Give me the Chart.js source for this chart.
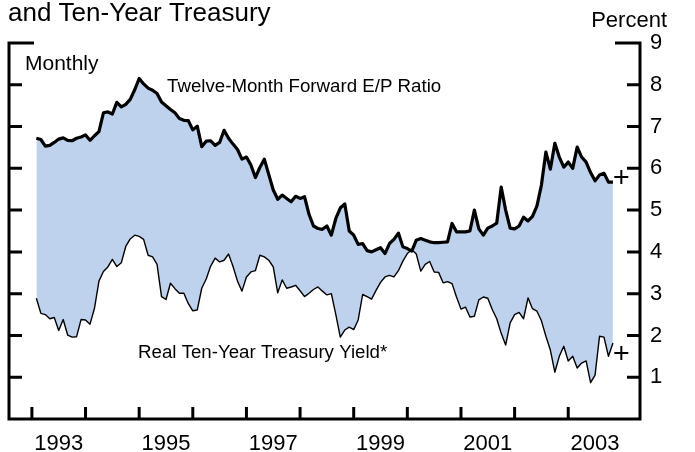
<!DOCTYPE html>
<html>
<head>
<meta charset="utf-8">
<script src="https://cdn.jsdelivr.net/npm/chart.js@4.4.1/dist/chart.umd.min.js"></script>
<style>
  html, body { margin: 0; padding: 0; background: #fff; }
  #chart { display: block; }
</style>
</head>
<body>
<canvas id="chart" width="695" height="452"></canvas>
<script>
// Monthly data, Feb 1993 - Nov 2003
const firstYear = 1993;
const firstMonth = 2;

const epRatio = [
  6.72, 6.69, 6.53, 6.55, 6.62, 6.70, 6.73, 6.67, 6.66, 6.72, 6.75, 6.80,
  6.67, 6.78, 6.88, 7.33, 7.35, 7.30, 7.58, 7.47, 7.53, 7.65, 7.88, 8.15,
  8.02, 7.92, 7.87, 7.79, 7.59, 7.50, 7.41, 7.33, 7.19, 7.15, 7.14, 6.92,
  7.01, 6.52, 6.65, 6.66, 6.55, 6.62, 6.91, 6.72, 6.58, 6.45, 6.22, 6.27,
  6.08, 5.78, 6.02, 6.22, 5.85, 5.48, 5.26, 5.36, 5.28, 5.20, 5.33, 5.28,
  5.32, 4.90, 4.62, 4.56, 4.54, 4.62, 4.40, 4.80, 5.05, 5.15, 4.50, 4.40,
  4.18, 4.20, 4.03, 4.00, 4.05, 4.10, 3.96, 4.20, 4.30, 4.45, 4.12, 4.08,
  4.02, 4.28, 4.32, 4.28, 4.24, 4.22, 4.22, 4.23, 4.24, 4.68, 4.48, 4.48,
  4.48, 4.50, 5.00, 4.55, 4.40, 4.57, 4.62, 4.69, 5.55, 5.00, 4.57, 4.55,
  4.62, 4.83, 4.74, 4.85, 5.10, 5.60, 6.39, 5.98, 6.60, 6.27, 6.03, 6.15,
  6.00, 6.51, 6.27, 6.15, 5.90, 5.70, 5.84, 5.88, 5.67, 5.67
];

const realYield = [
  2.89, 2.53, 2.50, 2.40, 2.43, 2.12, 2.38, 2.01, 1.96, 1.97, 2.38, 2.37,
  2.27, 2.65, 3.30, 3.53, 3.64, 3.82, 3.65, 3.74, 4.13, 4.31, 4.40, 4.37,
  4.30, 3.92, 3.88, 3.70, 2.93, 2.86, 3.25, 3.12, 3.01, 3.01, 2.76, 2.59,
  2.61, 3.13, 3.35, 3.66, 3.85, 3.76, 3.80, 3.95, 3.65, 3.30, 3.06, 3.40,
  3.52, 3.55, 3.92, 3.88, 3.80, 3.64, 3.02, 3.33, 3.13, 3.16, 3.20, 3.07,
  2.93, 3.01, 3.10, 3.16, 3.06, 2.97, 3.00, 2.50, 1.96, 2.13, 2.20, 2.14,
  2.37, 2.98, 2.93, 2.87, 3.08, 3.27, 3.40, 3.44, 3.40, 3.55, 3.78, 3.96,
  4.05, 3.95, 3.54, 3.70, 3.77, 3.52, 3.51, 3.26, 3.29, 3.24, 2.92, 2.63,
  2.68, 2.44, 2.46, 2.85, 2.92, 2.89, 2.62, 2.40, 2.05, 1.77, 2.30, 2.50,
  2.55, 2.40, 2.90, 2.64, 2.58, 2.35, 1.98, 1.65, 1.12, 1.50, 1.74, 1.39,
  1.50, 1.22, 1.34, 1.39, 0.87, 1.05, 1.98, 1.96, 1.50, 1.82
];

// latest readings, marked with "+"
const latestX = 2003.99;
const latestEP = 5.79;
const latestReal = 1.58;

const yearTicks = [1993, 1994, 1995, 1996, 1997, 1998, 1999, 2000, 2001, 2002, 2003];
const yearLabels = [1993, 1995, 1997, 1999, 2001, 2003];
const pctTicks = [1, 2, 3, 4, 5, 6, 7, 8, 9];

const FONT = "'Liberation Sans', Arial, Helvetica, sans-serif";

const monthX = i => firstYear + (firstMonth - 1 + i) / 12;
const epPoints = epRatio.map((v, i) => ({ x: monthX(i), y: v }));
const realPoints = realYield.map((v, i) => ({ x: monthX(i), y: v }));

// frame, inward ticks and the chart's text
const decorations = {
  id: 'decorations',
  afterDraw(chart) {
    const { ctx, chartArea: a, scales } = chart;
    const xs = scales.x, ys = scales.y;
    ctx.save();
    ctx.strokeStyle = '#000';
    ctx.lineWidth = 3;
    ctx.lineJoin = 'miter';

    ctx.beginPath();
    ctx.moveTo(a.left + 25, a.top);
    ctx.lineTo(a.left, a.top);
    ctx.lineTo(a.left, a.bottom);
    ctx.lineTo(a.right, a.bottom);
    ctx.lineTo(a.right, a.top);
    ctx.lineTo(a.right - 25, a.top);
    ctx.stroke();

    ctx.beginPath();
    pctTicks.filter(v => v < 9).forEach(v => {
      const y = ys.getPixelForValue(v);
      ctx.moveTo(a.left, y); ctx.lineTo(a.left + 13, y);
      ctx.moveTo(a.right, y); ctx.lineTo(a.right - 13, y);
    });
    yearTicks.forEach(yr => {
      const x = xs.getPixelForValue(yr);
      ctx.moveTo(x, a.bottom); ctx.lineTo(x, a.bottom - 12);
    });
    ctx.stroke();

    ctx.fillStyle = '#000';
    ctx.textBaseline = 'alphabetic';
    ctx.textAlign = 'left';
    ctx.font = '26px ' + FONT;
    ctx.fillText('and Ten-Year Treasury', 8, 21);
    ctx.font = '22px ' + FONT;
    ctx.textAlign = 'right';
    ctx.fillText('Percent', 667, 27);
    ctx.textAlign = 'left';
    ctx.font = '21px ' + FONT;
    ctx.fillText('Monthly', 25, 70);
    ctx.font = '18.7px ' + FONT;
    ctx.fillText('Twelve-Month Forward E/P Ratio', 167, 91.5);
    ctx.fillText('Real Ten-Year Treasury Yield*', 138, 358);
    ctx.restore();
  }
};

new Chart(document.getElementById('chart'), {
  type: 'line',
  data: {
    datasets: [
      {
        label: 'Twelve-Month Forward E/P Ratio',
        data: epPoints,
        borderColor: '#000',
        borderWidth: 3.2,
        borderJoinStyle: 'round',
        pointRadius: 0,
        tension: 0,
        fill: '+1',
        backgroundColor: '#bed2ee'
      },
      {
        label: 'Real Ten-Year Treasury Yield*',
        data: realPoints,
        borderColor: '#000',
        borderWidth: 1.4,
        borderJoinStyle: 'round',
        pointRadius: 0,
        tension: 0,
        fill: false
      },
      {
        label: 'Latest',
        data: [{ x: latestX, y: latestEP }, { x: latestX, y: latestReal }],
        showLine: false,
        pointStyle: 'cross',
        pointRadius: 7,
        borderWidth: 2,
        borderColor: '#000',
        backgroundColor: '#000'
      }
    ]
  },
  options: {
    responsive: false,
    animation: false,
    layout: { padding: { left: 7, top: 43, right: 0, bottom: 0 } },
    plugins: {
      legend: { display: false },
      tooltip: { enabled: false },
      filler: { drawTime: 'beforeDatasetsDraw' }
    },
    scales: {
      x: {
        type: 'linear',
        position: 'bottom',
        min: 1992.573,
        max: 2004.338,
        grid: { display: false, drawTicks: false },
        border: { display: false },
        ticks: {
          color: '#000',
          font: { family: FONT, size: 22 },
          padding: 12,
          maxRotation: 0,
          autoSkip: false,
          callback: v => String(Math.floor(v))
        },
        afterBuildTicks: s => { s.ticks = yearLabels.map(y => ({ value: y + 0.5 })); },
        afterFit: s => { s.height = 33; }
      },
      y: {
        type: 'linear',
        position: 'right',
        min: 0,
        max: 9,
        grid: { display: false, drawTicks: false },
        border: { display: false },
        ticks: {
          color: '#000',
          font: { family: FONT, size: 22 },
          padding: 10
        },
        afterBuildTicks: s => { s.ticks = pctTicks.map(v => ({ value: v })); },
        afterFit: s => { s.width = 55; }
      }
    }
  },
  plugins: [decorations]
});
</script>
</body>
</html>
